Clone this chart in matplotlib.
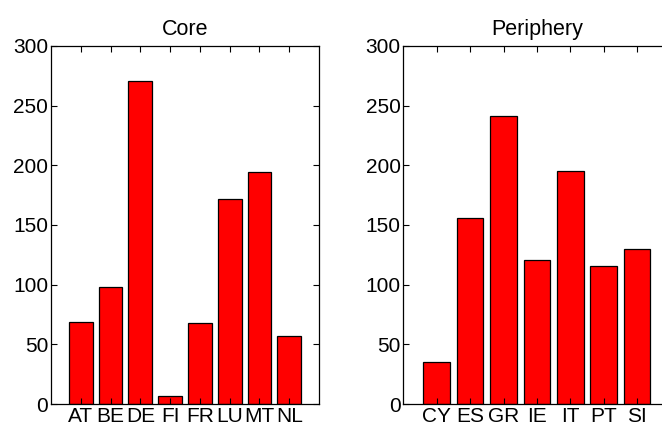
import numpy as np
import matplotlib
matplotlib.use("Agg")
import matplotlib.pyplot as plt

plt.rcParams['font.family'] = ['Liberation Sans', 'DejaVu Sans']

core_labels = ['AT', 'BE', 'DE', 'FI', 'FR', 'LU', 'MT', 'NL']
core_values = [69, 98, 271, 7, 68, 172, 194, 57]

periph_labels = ['CY', 'ES', 'GR', 'IE', 'IT', 'PT', 'SI']
periph_values = [35, 156, 241, 121, 195, 116, 130]

yticks = [0, 50, 100, 150, 200, 250, 300]


def matlab_bar(ax, labels, values, title):
    idx = np.arange(1, len(labels) + 1)
    ax.bar(idx, values, 0.8, color='#ff0000', edgecolor='black', linewidth=0.9)
    ax.set_xlim(0, len(labels) + 1)
    ax.set_ylim(0, 300)
    ax.set_xticks(idx)
    ax.set_xticklabels(labels)
    ax.set_yticks(yticks)
    ax.tick_params(direction='in', top=True, right=True, length=4,
                   width=0.8, labelsize=15, pad=2)
    for s in ax.spines.values():
        s.set_linewidth(0.9)
    ax.set_title(title, fontsize=15.5, pad=8)


fig = plt.figure(figsize=(6.62, 4.29), dpi=100)
ax1 = fig.add_axes([51 / 662, 25 / 429, 268 / 662, 358 / 429])
ax2 = fig.add_axes([403.3 / 662, 25 / 429, 267.2 / 662, 358 / 429])

matlab_bar(ax1, core_labels, core_values, 'Core')
matlab_bar(ax2, periph_labels, periph_values, 'Periphery')

fig.savefig('out.png', dpi=100)
